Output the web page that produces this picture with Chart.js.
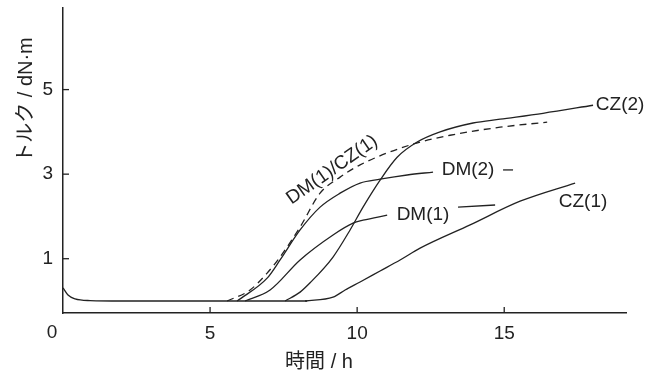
<!DOCTYPE html>
<html>
<head>
<meta charset="utf-8">
<script src="https://cdn.jsdelivr.net/npm/chart.js@4"></script>
<style>
  body { margin: 0; background: #fff; }
</style>
</head>
<body>
<canvas id="torqueChart" width="657" height="376"></canvas>
<script>
// time (h) and torque (dN·m)
const baseT = [0, 0.17, 0.41, 0.92, 2, 4, 6, 8.3];
const baseV = [0.31, 0.14, 0.05, 0.01, 0, 0, 0, 0];

const dmczT = [5.58, 6.36, 6.94, 7.38, 8.06, 8.74, 9.42, 10.10, 11.80, 13.16, 14.86, 16.46];
const dmczV = [0, 0.26, 0.66, 1.04, 1.75, 2.55, 2.93, 3.22, 3.69, 3.92, 4.11, 4.23];

const dm2T = [5.92, 6.94, 7.38, 8.06, 8.74, 9.42, 10.10, 10.78, 11.70, 12.58];
const dm2V = [0, 0.54, 0.97, 1.68, 2.22, 2.55, 2.79, 2.88, 2.98, 3.05];

const dm1T = [6.19, 7.04, 8.06, 9.18, 9.86, 10.20, 11.02];
const dm1V = [0, 0.26, 0.97, 1.56, 1.84, 1.91, 2.03];

const cz2T = [7.55, 8.06, 8.40, 9.18, 9.76, 10.20, 10.78, 11.36, 12.04, 12.82, 13.94, 14.86, 16.32, 18.02];
const cz2V = [0, 0.21, 0.43, 1.04, 1.68, 2.22, 2.86, 3.40, 3.76, 4.00, 4.21, 4.30, 4.44, 4.63];

const cz1T = [8.23, 9.18, 9.59, 10.10, 10.78, 11.46, 12.14, 13.84, 15.54, 17.41];
const cz1V = [0, 0.09, 0.26, 0.45, 0.71, 0.97, 1.25, 1.80, 2.36, 2.79];

const xTicks = [5, 10, 15];
const yTicks = [1, 3, 5];

// curve labels: text, t, torque, angle
const labelText = ['DM(1)/CZ(1)', 'DM(2)', 'DM(1)', 'CZ(2)', 'CZ(1)'];
const labelT = [9.15, 13.77, 12.24, 18.94, 17.68];
const labelV = [3.10, 3.10, 2.03, 4.63, 2.34];
const labelAngle = [-35, 0, 0, 0, 0];

// short leader strokes after the DM labels
const leaderT = [[14.96, 15.30], [13.43, 14.69]];
const leaderV = [[3.10, 3.10], [2.22, 2.27]];

const ink = '#222';
const txtFont = '"Liberation Sans", Arial, "Noto Sans CJK JP", sans-serif';

function pts(ts, vs) {
    return ts.map((t, i) => ({x: t, y: vs[i]}));
}

function curve(ts, vs, dashed) {
    return {
        data: pts(ts, vs),
        borderColor: ink,
        borderWidth: 1.3,
        borderDash: dashed ? [7, 5] : [],
        pointRadius: 0,
        cubicInterpolationMode: 'monotone',
        fill: false
    };
}

function noPad(s) {
    s.paddingTop = 0;
    s.paddingBottom = 0;
    s.paddingLeft = 0;
    s.paddingRight = 0;
}

const decor = {
    id: 'decor',
    afterDraw(chart) {
        const ctx = chart.ctx;
        const xs = chart.scales.x, ys = chart.scales.y;
        ctx.save();
        ctx.fillStyle = ink;
        ctx.strokeStyle = ink;
        ctx.lineWidth = 1.3;

        // inward tick marks
        xTicks.forEach(t => {
            const px = xs.getPixelForValue(t);
            ctx.beginPath();
            ctx.moveTo(px, ys.bottom);
            ctx.lineTo(px, ys.bottom - 6);
            ctx.stroke();
        });
        yTicks.forEach(v => {
            const py = ys.getPixelForValue(v);
            ctx.beginPath();
            ctx.moveTo(xs.left, py);
            ctx.lineTo(xs.left + 6, py);
            ctx.stroke();
        });

        // curve labels
        ctx.font = '19px ' + txtFont;
        ctx.textAlign = 'center';
        ctx.textBaseline = 'middle';
        labelText.forEach((s, i) => {
            ctx.save();
            ctx.translate(xs.getPixelForValue(labelT[i]), ys.getPixelForValue(labelV[i]));
            ctx.rotate(labelAngle[i] * Math.PI / 180);
            ctx.fillText(s, 0, 0);
            ctx.restore();
        });

        leaderT.forEach((tt, i) => {
            ctx.beginPath();
            ctx.moveTo(xs.getPixelForValue(tt[0]), ys.getPixelForValue(leaderV[i][0]));
            ctx.lineTo(xs.getPixelForValue(tt[1]), ys.getPixelForValue(leaderV[i][1]));
            ctx.stroke();
        });

        // origin label and axis titles
        ctx.font = '19px ' + txtFont;
        ctx.fillText('0', xs.left - 11, ys.bottom + 20);

        ctx.font = '20px ' + txtFont;
        ctx.fillText('時間 / h', 319, 362);

        ctx.save();
        ctx.translate(26, 100);
        ctx.rotate(-Math.PI / 2);
        ctx.fillText('トルク / dN·m', 0, 0);
        ctx.restore();

        ctx.restore();
    }
};

new Chart(document.getElementById('torqueChart').getContext('2d'), {
    type: 'line',
    data: {
        datasets: [
            curve(baseT, baseV, false),
            curve(dmczT, dmczV, true),
            curve(dm2T, dm2V, false),
            curve(dm1T, dm1V, false),
            curve(cz2T, cz2V, false),
            curve(cz1T, cz1V, false)
        ]
    },
    options: {
        responsive: false,
        animation: false,
        devicePixelRatio: 1,
        layout: { padding: { top: 8, right: 31, left: 0, bottom: 0 } },
        plugins: {
            legend: { display: false },
            tooltip: { enabled: false }
        },
        scales: {
            x: {
                type: 'linear',
                min: 0,
                max: 19.14,
                afterBuildTicks: s => { s.ticks = xTicks.map(v => ({value: v})); },
                afterFit: s => { s.height = 63; noPad(s); },
                grid: { display: false, drawTicks: false },
                border: { display: true, color: ink, width: 1.5 },
                ticks: { color: ink, padding: 9, maxRotation: 0, font: { family: txtFont, size: 19 } }
            },
            y: {
                type: 'linear',
                min: -0.284,
                max: 6.93,
                afterBuildTicks: s => { s.ticks = yTicks.map(v => ({value: v})); },
                afterFit: s => { s.width = 63; noPad(s); },
                grid: { display: false, drawTicks: false },
                border: { display: true, color: ink, width: 1.5 },
                ticks: { color: ink, padding: 10, font: { family: txtFont, size: 19 } }
            }
        }
    },
    plugins: [decor]
});
</script>
</body>
</html>
